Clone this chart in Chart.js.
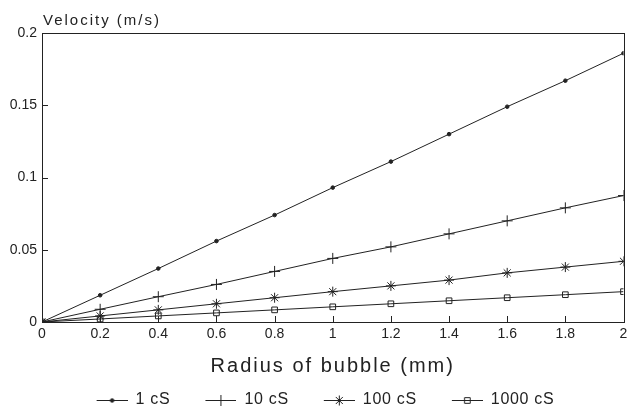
<!DOCTYPE html>
<html>
<head>
<meta charset="utf-8">
<script src="https://cdn.jsdelivr.net/npm/chart.js@4.4.0/dist/chart.umd.min.js"></script>
<style>
  html, body { margin: 0; padding: 0; background: #fff; }
  #wrap { width: 630px; height: 418px; }
</style>
</head>
<body>
<div id="wrap"><canvas id="graphique"></canvas></div>
<script>
// Rayon de la bulle (mm)
const rayons = [0, 0.2, 0.4, 0.6, 0.8, 1, 1.2, 1.4, 1.6, 1.8, 2];
// Vitesse (m/s) pour chaque viscosité
const vitesse1cS = [0, 0.0185, 0.037, 0.056, 0.074, 0.093, 0.111, 0.130, 0.149, 0.167, 0.186];
const vitesse10cS = [0, 0.0088, 0.0175, 0.026, 0.035, 0.044, 0.052, 0.061, 0.070, 0.079, 0.0875];
const vitesse100cS = [0, 0.0042, 0.0084, 0.0126, 0.0168, 0.021, 0.025, 0.029, 0.034, 0.038, 0.042];
const vitesse1000cS = [0, 0.0021, 0.0042, 0.0063, 0.0084, 0.0105, 0.0126, 0.0147, 0.0168, 0.0189, 0.021];
const series = ["1 cS", "10 cS", "100 cS", "1000 cS"];

const xTicks = [0, 0.2, 0.4, 0.6, 0.8, 1, 1.2, 1.4, 1.6, 1.8, 2];
const xTickLabels = ["0", "0.2", "0.4", "0.6", "0.8", "1", "1.2", "1.4", "1.6", "1.8", "2"];
const yTicks = [0, 0.05, 0.1, 0.15, 0.2];
const yTickLabels = ["0", "0.05", "0.1", "0.15", "0.2"];

const encre = "#222";
const police = "'Liberation Sans', Arial, sans-serif";

function points(valeurs) {
    return rayons.map((r, i) => ({ x: r, y: valeurs[i] }));
}

const styles = [
    { pointStyle: "circle", pointRadius: 1.8, fill: true },
    { pointStyle: "cross", pointRadius: 5.5, fill: false },
    { pointStyle: "star", pointRadius: 5, fill: false },
    { pointStyle: "rect", pointRadius: 4, fill: false },
];

// Petite image ligne + symbole pour la légende (marge vide à gauche)
function iconeLegende(style) {
    const c = document.createElement("canvas");
    c.width = 56;
    c.height = 14;
    const ctx = c.getContext("2d");
    ctx.strokeStyle = encre;
    ctx.fillStyle = style.fill ? encre : "rgba(0,0,0,0)";
    ctx.lineWidth = 1;
    ctx.beginPath();
    ctx.moveTo(25, 7.5);
    ctx.lineTo(56, 7.5);
    ctx.stroke();
    Chart.helpers.drawPoint(ctx, {
        pointStyle: style.pointStyle,
        radius: style.pointRadius,
        borderWidth: 1,
        rotation: 0
    }, 40.5, 7.5);
    return c;
}

const datasets = [vitesse1cS, vitesse10cS, vitesse100cS, vitesse1000cS].map((v, i) => ({
    label: series[i],
    data: points(v),
    borderColor: encre,
    borderWidth: 1,
    pointStyle: styles[i].pointStyle,
    pointRadius: styles[i].pointRadius,
    pointBorderColor: encre,
    pointBackgroundColor: styles[i].fill ? encre : "rgba(0,0,0,0)",
    pointBorderWidth: 1,
    tension: 0,
}));

// Espacement des lettres pour une fonction de dessin donnée
function espacer(objet, nom, espace) {
    const original = objet[nom];
    objet[nom] = function (...args) {
        const ctx = this.ctx;
        const avant = ctx.letterSpacing;
        ctx.letterSpacing = espace;
        const res = original.apply(this, args);
        ctx.letterSpacing = avant;
        return res;
    };
}

const espacement = {
    id: "espacement",
    beforeLayout(chart) {
        if (chart.legend && !chart.legend._espace) {
            espacer(chart.legend, "fit", "0.7px");
            espacer(chart.legend, "draw", "0.7px");
            chart.legend._espace = true;
        }
        const sx = chart.scales.x;
        if (sx && !sx._espace) {
            espacer(sx, "drawTitle", "2px");
            sx._espace = true;
        }
    }
};

// Cadre, graduations vers l'intérieur et titre de l'axe vertical
const cadre = {
    id: "cadre",
    afterDraw(chart) {
        const ctx = chart.ctx;
        const a = chart.chartArea;
        const sx = chart.scales.x;
        const sy = chart.scales.y;
        ctx.save();
        ctx.strokeStyle = encre;
        ctx.lineWidth = 1;
        ctx.strokeRect(Math.round(a.left) + 0.5, Math.round(a.top) + 0.5,
            Math.round(a.right - a.left), Math.round(a.bottom - a.top));
        ctx.beginPath();
        for (const v of xTicks) {
            const px = Math.round(sx.getPixelForValue(v)) + 0.5;
            ctx.moveTo(px, a.bottom);
            ctx.lineTo(px, a.bottom - 6);
        }
        for (const v of yTicks) {
            const py = Math.round(sy.getPixelForValue(v)) + 0.5;
            ctx.moveTo(a.left, py);
            ctx.lineTo(a.left + 6, py);
        }
        ctx.stroke();
        ctx.fillStyle = encre;
        ctx.font = "15px " + police;
        ctx.letterSpacing = "2px";
        ctx.textBaseline = "alphabetic";
        ctx.fillText("Velocity (m/s)", a.left + 1, 25);
        ctx.restore();
    }
};

new Chart(document.querySelector("#graphique"), {
    type: "line",
    data: { datasets: datasets },
    options: {
        responsive: true,
        maintainAspectRatio: false,
        animation: false,
        layout: { padding: { top: 33, right: 4, left: 0, bottom: 0 } },
        scales: {
            x: {
                type: "linear",
                min: 0,
                max: 2,
                afterBuildTicks: (scale) => { scale.ticks = xTicks.map(v => ({ value: v })); },
                afterFit: (scale) => {
                    scale.height = 60;
                    scale.paddingRight = 0;
                    scale.paddingLeft = 0;
                },
                ticks: {
                    callback: (value, index) => xTickLabels[index],
                    color: encre,
                    font: { size: 14, family: police },
                    padding: 4,
                    maxRotation: 0,
                    autoSkip: false,
                },
                grid: { display: false, drawTicks: false },
                border: { display: false },
                title: {
                    display: true,
                    text: "Radius of bubble (mm)",
                    color: encre,
                    font: { size: 20, family: police },
                    padding: { top: 4, bottom: 4 },
                },
            },
            y: {
                type: "linear",
                min: 0,
                max: 0.2,
                afterBuildTicks: (scale) => { scale.ticks = yTicks.map(v => ({ value: v })); },
                afterFit: (scale) => { scale.width = 42; },
                ticks: {
                    callback: (value, index) => yTickLabels[index],
                    color: encre,
                    font: { size: 14, family: police },
                    padding: 5,
                },
                grid: { display: false, drawTicks: false },
                border: { display: false },
            },
        },
        plugins: {
            tooltip: { enabled: false },
            legend: {
                position: "bottom",
                labels: {
                    usePointStyle: true,
                    pointStyleWidth: 56,
                    color: encre,
                    font: { size: 16, family: police },
                    padding: 10,
                    generateLabels: (chart) => chart.data.datasets.map((ds, i) => ({
                        text: ds.label,
                        pointStyle: iconeLegende(styles[i]),
                        fillStyle: encre,
                        strokeStyle: encre,
                        lineWidth: 0,
                        fontColor: encre,
                        datasetIndex: i,
                    })),
                },
            },
        },
    },
    plugins: [espacement, cadre],
});
</script>
</body>
</html>
